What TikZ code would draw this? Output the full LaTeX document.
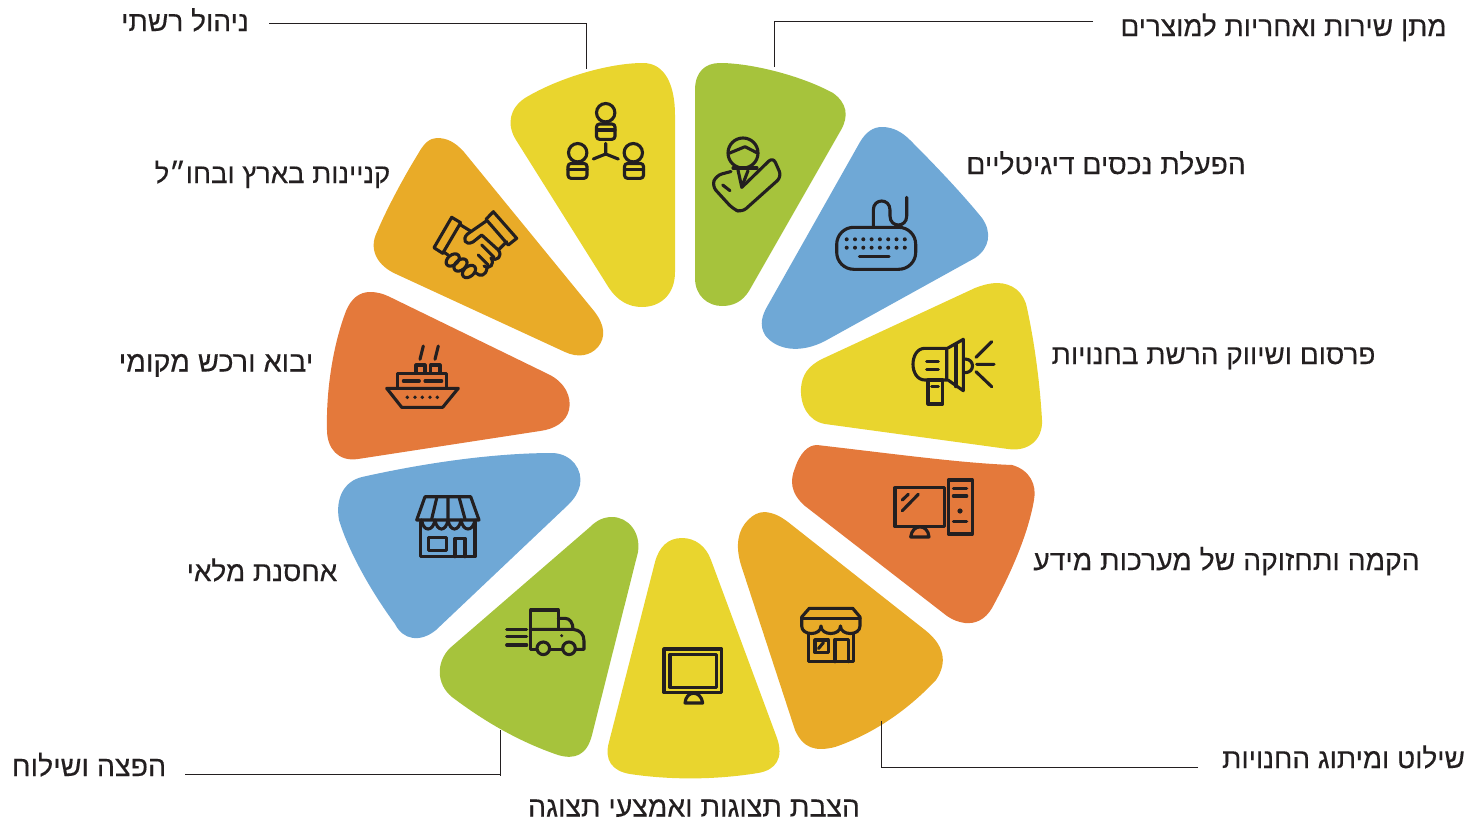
\documentclass[tikz,border=0pt]{standalone}
\usepackage{fontspec}
\newfontfamily\hefont[Script=Hebrew,FakeBold=0.25]{Liberation Sans}
\TeXXeTstate=1
\usetikzlibrary{calc}
\definecolor{wyellow}{HTML}{E9D52E}
\definecolor{wgreen}{HTML}{A6C33C}
\definecolor{wblue}{HTML}{6FA8D6}
\definecolor{worange}{HTML}{E4793B}
\definecolor{wgold}{HTML}{E9AB28}
\definecolor{ink}{HTML}{231F20}
\tikzset{
  lbl/.style={inner sep=0pt,text=ink,font=\hefont\fontsize{27.9}{30}\selectfont,anchor=base},
  ic/.style={draw=ink,line width=3.1pt,line join=round,line cap=round},
  leader/.style={draw=ink,line width=0.9pt}
}
\begin{document}
\begin{tikzpicture}[x=1pt,y=-1pt]
\useasboundingbox (0,0) rectangle (1469,822);
% wedges
\fill[wyellow] (643,63) .. controls (665,63) and (675,85) .. (675,115) -- (675,272) .. controls (675,295) and (660,307) .. (642,307) .. controls (628,307) and (617,300) .. (609,288) -- (516,140) .. controls (506,124) and (510,108) .. (525,98) .. controls (560,77) and (610,63) .. (643,63) -- cycle;
\fill[wgreen] (720,63) .. controls (705,63) and (695,72) .. (695,90) -- (695,278) .. controls (695,296) and (708,306) .. (722,306) .. controls (733,306) and (742,302) .. (749,291) -- (841,130) .. controls (849,116) and (847,103) .. (833,93) .. controls (800,75) and (750,63) .. (720,63) -- cycle;
\fill[wblue] (882,127) .. controls (893,127) and (902,132) .. (910,140) .. controls (940,170) and (965,197) .. (982,218) .. controls (992,232) and (990,248) .. (975,258) -- (825,341) .. controls (800,354) and (776,350) .. (765,335) .. controls (759,325) and (762,315) .. (768,305) -- (860,142) .. controls (866,132) and (873,127) .. (882,127) -- cycle;
\fill[wyellow] (997,283) .. controls (1012,283) and (1024,292) .. (1027,308) .. controls (1035,345) and (1040,385) .. (1042,420) .. controls (1043,440) and (1028,452) .. (1008,449) -- (825,424) .. controls (808,421) and (800,405) .. (801,388) .. controls (802,375) and (808,366) .. (822,359) -- (975,288) .. controls (983,285) and (990,283) .. (997,283) -- cycle;
\fill[worange] (817,445) .. controls (895,454) and (960,463) .. (1012,465) .. controls (1030,470) and (1037,485) .. (1034,500) .. controls (1028,535) and (1010,575) .. (992,608) .. controls (985,620) and (975,624) .. (965,623) .. controls (958,622) and (953,620) .. (947,616) -- (805,506) .. controls (790,493) and (790,480) .. (795,468) .. controls (800,453) and (808,445) .. (817,445) -- cycle;
\fill[wgold] (765,512) .. controls (774,513) and (780,516) .. (788,522) -- (925,630) .. controls (944,645) and (948,662) .. (936,680) .. controls (905,713) and (870,735) .. (835,747) .. controls (815,752) and (803,748) .. (795,730) -- (741,565) .. controls (735,545) and (738,530) .. (748,520) .. controls (753,515) and (758,512) .. (765,512) -- cycle;
\fill[wyellow] (682,538) .. controls (695,538) and (706,546) .. (711,560) -- (777,738) .. controls (784,758) and (776,770) .. (758,773) .. controls (715,780) and (670,780) .. (630,774) .. controls (612,771) and (604,760) .. (609,742) -- (655,562) .. controls (659,547) and (668,538) .. (682,538) -- cycle;
\fill[wgreen] (612,517) .. controls (628,517) and (641,532) .. (638,552) -- (592,735) .. controls (587,755) and (575,760) .. (558,755) .. controls (520,742) and (485,722) .. (452,697) .. controls (436,684) and (436,662) .. (450,648) -- (590,527) .. controls (597,520) and (604,517) .. (612,517) -- cycle;
\fill[wblue] (553,453) .. controls (572,454) and (583,470) .. (580,485) .. controls (578,493) and (575,498) .. (568,505) -- (436,630) .. controls (420,643) and (403,640) .. (395,624) .. controls (370,590) and (348,550) .. (339,520) .. controls (335,497) and (345,481) .. (362,477) .. controls (420,464) and (490,453) .. (553,453) -- cycle;
\fill[worange] (370,292) .. controls (378,292) and (384,294) .. (392,298) -- (548,374) .. controls (565,382) and (572,397) .. (569,410) .. controls (566,422) and (555,429) .. (540,431) -- (358,459) .. controls (338,462) and (327,448) .. (327,430) .. controls (326,390) and (333,345) .. (346,311) .. controls (351,299) and (359,292) .. (370,292) -- cycle;
\fill[wgold] (437,138) .. controls (447,138) and (455,142) .. (464,152) -- (594,311) .. controls (605,325) and (606,337) .. (598,347) .. controls (590,356) and (578,358) .. (565,352) -- (396,274) .. controls (378,266) and (368,250) .. (377,232) .. controls (387,208) and (405,175) .. (418,154) .. controls (424,143) and (430,138) .. (437,138) -- cycle;
% icon: network
\draw[ic] (605.7,112.7) circle (9.2);
\draw[ic,rounded corners=3pt] (596.5,139.3) -- (596.5,124) -- (615,124) -- (615,139.3) -- cycle;
\draw[ic] (596.5,130) -- (615,130);
\draw[ic] (577.7,152.7) circle (9.2);
\draw[ic,rounded corners=3pt] (568,178.3) -- (568,163.5) -- (587,163.5) -- (587,178.3) -- cycle;
\draw[ic] (568,169.5) -- (587,169.5);
\draw[ic] (633.3,152.7) circle (9.2);
\draw[ic,rounded corners=3pt] (624.5,178.3) -- (624.5,163.5) -- (643.5,163.5) -- (643.5,178.3) -- cycle;
\draw[ic] (624.5,169.5) -- (643.5,169.5);
\draw[ic] (605.7,143.3) -- (605.7,154) (593.3,159) -- (605.7,154) -- (618.3,159);
% icon: person and tick
\draw[ic] (743,153) circle (15);
\draw[ic] (729,153.3) -- (745,146.7) -- (758,153.3);
\draw[ic] (733,168) -- (757,168);
\draw[ic] (738,170) -- (741.7,187) -- (748,170.7);
\draw[ic,rounded corners=6pt] (741.7,187.5) -- (773,157) -- (781.7,176.7) -- (741.7,212.5) -- (733,209) -- (712,186) -- (716,175.5) -- (731,171.5);
\draw[ic] (722.7,185) -- (730,190.7);
% icon: keyboard
\draw[ic,rounded corners=17pt] (836.7,227.3) rectangle (915.7,269.3);
\foreach \dx in {0,...,7}{\fill[ink] (846.7+8.3*\dx,239.3) circle (2) (846.7+8.3*\dx,247.7) circle (2);}
\draw[ic] (859.3,256.7) -- (889,256.7);
\draw[ic] (873.3,227.3) -- (873.3,210) .. controls (873.3,198) and (890,198) .. (890,210) -- (890,216) .. controls (890,228) and (906.7,228) .. (906.7,216) -- (906.7,197.3);
% icon: megaphone
\draw[ic] (946.7,348.3) -- (925,348.3) .. controls (909,348.3) and (909,380) .. (925,380) -- (946.7,380) -- cycle;
\draw[ic] (948,348) -- (963.3,339.3) -- (963.3,390.7) -- (948,380);
\draw[ic] (956,344) -- (956,386.7);
\draw[ic] (965,359) .. controls (975,359) and (975,372.7) .. (965,372.7);
\draw[ic] (976,357.3) -- (991.7,341.7) (976.7,364.3) -- (994,364.3) (976,371.7) -- (991.7,386.7);
\draw[ic] (928,380) rectangle (942.7,404);
\draw[ic] (931.7,386.7) -- (938.3,386.7) (926.7,361.7) -- (938.3,361.7) (926.7,369.3) -- (938.3,369.3);
% icon: computer
\draw[ic] (895,487.7) rectangle (944.3,526.7);
\draw[ic] (948.3,480) rectangle (972.3,534);
\draw[ic] (953.3,488.3) -- (966.7,488.3) (953.3,496) -- (966.7,496) (953.3,521.7) -- (966.7,521.7);
\fill[ink] (960,511) circle (2.6);
\draw[ic] (910.7,537) .. controls (912,523.5) and (928,523.5) .. (929,537) -- cycle;
\draw[ic] (902.3,500) -- (908.3,494.3) (902.3,510.7) -- (918.3,494.3);
% icon: store gold
\draw[ic] (801.7,617) -- (809.3,608.3) -- (852.7,608.3) -- (860,617) -- (860,626)
  .. controls (860,636) and (840.5,636) .. (840.5,626)
  .. controls (840.5,636) and (821,636) .. (821,626)
  .. controls (821,636) and (801.7,636) .. (801.7,626) -- cycle;
\draw[ic] (801.7,618.5) -- (860,618.5);
\draw[ic] (808.3,634) -- (808.3,661.7) -- (853.3,661.7) -- (853.3,634);
\draw[ic] (815,640) rectangle (828.3,652.7);
\draw[ic] (818.5,648.5) -- (823.5,642.5);
\draw[ic] (835,661.7) -- (835,639.3) -- (848.3,639.3) -- (848.3,661.7);
% icon: monitor
\draw[ic] (664,649) rectangle (721.7,692.7);
\draw[ic] (670,654.3) rectangle (716.7,687.3);
\draw[ic] (685,703) .. controls (686,690) and (701,690) .. (702.7,703) -- cycle;
% icon: truck
\draw[ic] (537,649.3) -- (530.7,649.3) -- (530.7,610) -- (558.3,610) -- (558.3,629.3);
\draw[ic] (530.7,629.3) -- (573,629.3) .. controls (580,630) and (584,634) .. (584,641) -- (584,649.3) -- (576,649.3);
\draw[ic] (558.3,618.3) -- (565,618.3) .. controls (570,618.3) and (573,623) .. (573,629.3);
\draw[ic] (550,649.3) -- (562.7,649.3);
\draw[ic] (543.3,648.3) circle (6.3) (569,648.3) circle (6.3);
\fill[ink] (561.7,635.7) circle (1.7);
\draw[ic] (506.7,629.3) -- (526.7,629.3) (506.7,636.7) -- (526.7,636.7) (506.7,645) -- (526.7,645);
% icon: store blue
\draw[ic] (416.7,520) -- (425,496.7) -- (470.7,496.7) -- (479,520) -- cycle;
\draw[ic] (436.7,498) -- (431.7,519) (448,498) -- (448,519) (459.3,498) -- (465,519);
\draw[ic] (421.7,520) .. controls (423,532) and (433,532) .. (435,520)
  .. controls (437,532) and (446,532) .. (448,520)
  .. controls (450,532) and (459,532) .. (461,520)
  .. controls (463,532) and (473,532) .. (475,520);
\draw[ic] (420.7,522) -- (420.7,556.7) -- (475,556.7) -- (475,522);
\draw[ic] (428.3,537.3) rectangle (446.7,550.7);
\draw[ic] (455,556.7) -- (455,538.3) -- (465,538.3) -- (465,556.7);
% icon: ship
\draw[ic] (386.7,388.3) -- (458.3,388.3) -- (442.7,407.3) -- (401.7,407.3) -- cycle;
\draw[ic] (397.3,387) -- (397.3,373.3) -- (446.7,373.3) -- (446.7,387);
\draw[ic] (403.3,381) -- (419.3,381) (425,381) -- (441.7,381);
\draw[ic] (416,372.7) -- (416,365) -- (425,365) -- (425,372.7);
\draw[ic] (430.7,372.7) -- (430.7,365) -- (440,365) -- (440,372.7);
\draw[ic] (423.3,346) -- (420,359.3) (438.3,346) -- (435,359.3);
\foreach \px in {407.3,415,422.3,430,437.3}{\fill[ink] (\px,397.3) circle (1.9);}
% icon: handshake
\draw[ic] (451.7,217.3) -- (460.7,222.7) -- (442.7,253.3) -- (434,247.7) -- cycle;
\draw[ic] (493.3,211.7) -- (516.7,238.3) -- (508.3,245) -- (486,219.3) -- cycle;
\draw[ic] (460.7,225) -- (470,230.7);
\draw[ic] (486.7,220.7) -- (467.5,234) .. controls (462,239) and (465,246) .. (473,242) -- (481.7,235) -- (498.3,250);
\draw[ic] (506.7,241.7) -- (498.3,250) .. controls (503,256) and (497,262) .. (491,258);
\draw[ic] (481.7,245) -- (494,257.3);
\draw[ic] (478.3,255) -- (488.3,265);
\draw[ic] (491,258) .. controls (495,264) and (490,270) .. (484,266) ;
\draw[ic] (487,268) .. controls (486,276) and (480,277) .. (476,273);
\draw[ic] (443.3,251.7) -- (448,255);
\draw[ic,rotate around={40:(452.7,260)}] (452.7,260) ellipse (7.5 and 5);
\draw[ic,rotate around={40:(460.5,265)}] (460.5,265) ellipse (7.5 and 5);
\draw[ic,rotate around={40:(469,271.5)}] (469,271.5) ellipse (7.5 and 5);
% labels
\node[lbl,font=\hefont\fontsize{28.1}{30}\selectfont] (t1) at (185,31) {\beginR ניהול רשתי\endR};
\node[lbl] (t2) at (1283.5,36) {\beginR מתן שירות ואחריות למוצרים\endR};
\node[lbl,font=\hefont\fontsize{28.2}{30}\selectfont] (t3) at (1106,174) {\beginR הפעלת נכסים דיגיטליים\endR};
\node[lbl,font=\hefont\fontsize{27.5}{30}\selectfont] (t4) at (272.5,183) {\beginR קניינות בארץ ובחו״ל\endR};
\node[lbl] (t5) at (1213.5,364) {\beginR פרסום ושיווק הרשת בחנויות\endR};
\node[lbl,font=\hefont\fontsize{28.8}{30}\selectfont] (t6) at (216,371.5) {\beginR יבוא ורכש מקומי\endR};
\node[lbl,font=\hefont\fontsize{28.3}{30}\selectfont] (t7) at (1226.5,570) {\beginR הקמה ותחזוקה של מערכות מידע\endR};
\node[lbl] (t8) at (262,581) {\beginR אחסנת מלאי\endR};
\node[lbl] (t9) at (1343.5,768) {\beginR שילוט ומיתוג החנויות\endR};
\node[lbl,font=\hefont\fontsize{28.6}{30}\selectfont] (t10) at (89,776) {\beginR הפצה ושילוח\endR};
\node[lbl,font=\hefont\fontsize{28.4}{30}\selectfont] (t11) at (694,816.5) {\beginR הצבת תצוגות ואמצעי תצוגה\endR};
% leaders
\coordinate (e1) at (586,69);
\coordinate (s1) at ($(t1.base east)+(20,-8)$);
\draw[leader] (s1) -| (e1);
\coordinate (e2) at (774,67);
\coordinate (s2) at (1093,21);
\draw[leader] (s2) -| (e2);
\coordinate (e3) at (881,721);
\coordinate (s3) at (1198,767);
\draw[leader] (s3) -| (e3);
\coordinate (e4) at (500,730);
\coordinate (s4) at (185,774);
\draw[leader] (s4) -- (e4 |- s4);
\draw[leader] (e4) -- ($(e4 |- s4)+(0,2)$);
\end{tikzpicture}
\end{document}
